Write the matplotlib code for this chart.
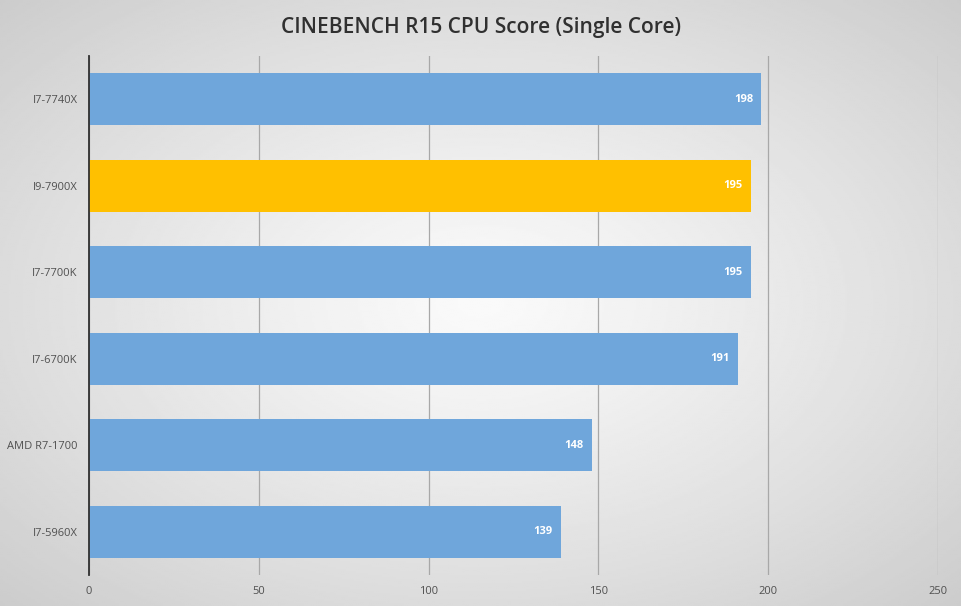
import numpy as np
import matplotlib.pyplot as plt

cpus = ["I7-7740X", "I9-7900X", "I7-7700K", "I7-6700K", "AMD R7-1700", "I7-5960X"]
scores = [198, 195, 195, 191, 148, 139]
highlight = "I9-7900X"
ticks = [0, 50, 100, 150, 200, 250]

blue = "#6fa6db"
gold = "#ffc000"

fig = plt.figure(figsize=(9.62, 6.06), dpi=100)

# фон: радиальный градиент от светлого центра к серым краям
bg = fig.add_axes([0, 0, 1, 1], zorder=-10)
yy, xx = np.mgrid[-1:1:300j, -1:1:480j]
r = np.sqrt(xx ** 2 + yy ** 2) / np.sqrt(2)
bg.imshow(0.98 - 0.18 * r ** 1.2, cmap="gray", vmin=0, vmax=1, aspect="auto",
          extent=[0, 1, 0, 1], interpolation="bilinear")
bg.axis("off")

ax = fig.add_axes([0.0925, 0.051, 0.8825, 0.857])
ax.patch.set_alpha(0)

y = np.arange(len(cpus))
colors = [gold if c == highlight else blue for c in cpus]
bars = ax.barh(y, scores, height=0.6, color=colors, zorder=3)

for b, s in zip(bars, scores):
    ax.text(b.get_width() - 2.4, b.get_y() + b.get_height() / 2, str(s),
            ha="right", va="center", color="white", fontsize=8,
            fontweight="bold", family="Open Sans", zorder=4)

ax.set_ylim(len(cpus) - 0.5, -0.5)
ax.set_xlim(0, 250)
ax.set_yticks(y)
ax.set_yticklabels(cpus, fontsize=8, color="#505050", family="Open Sans")
ax.set_xticks(ticks)
ax.set_xticklabels([str(t) for t in ticks], fontsize=8, color="#505050", family="Open Sans")
ax.tick_params(length=0, pad=8)
ax.tick_params(axis="x", pad=8)

ax.grid(axis="x", color="#a8a8a8", linewidth=0.9, zorder=0)
for s in ["top", "right", "bottom"]:
    ax.spines[s].set_visible(False)
ax.spines["left"].set_color("#303030")
ax.spines["left"].set_linewidth(1.3)
ax.spines["left"].set_zorder(5)

fig.text(0.5, 0.955, "CINEBENCH R15 CPU Score (Single Core)", ha="center", va="center",
         fontsize=15, color="#303030", family="Open Sans", fontweight="semibold")

fig.savefig("out.png", dpi=100)
